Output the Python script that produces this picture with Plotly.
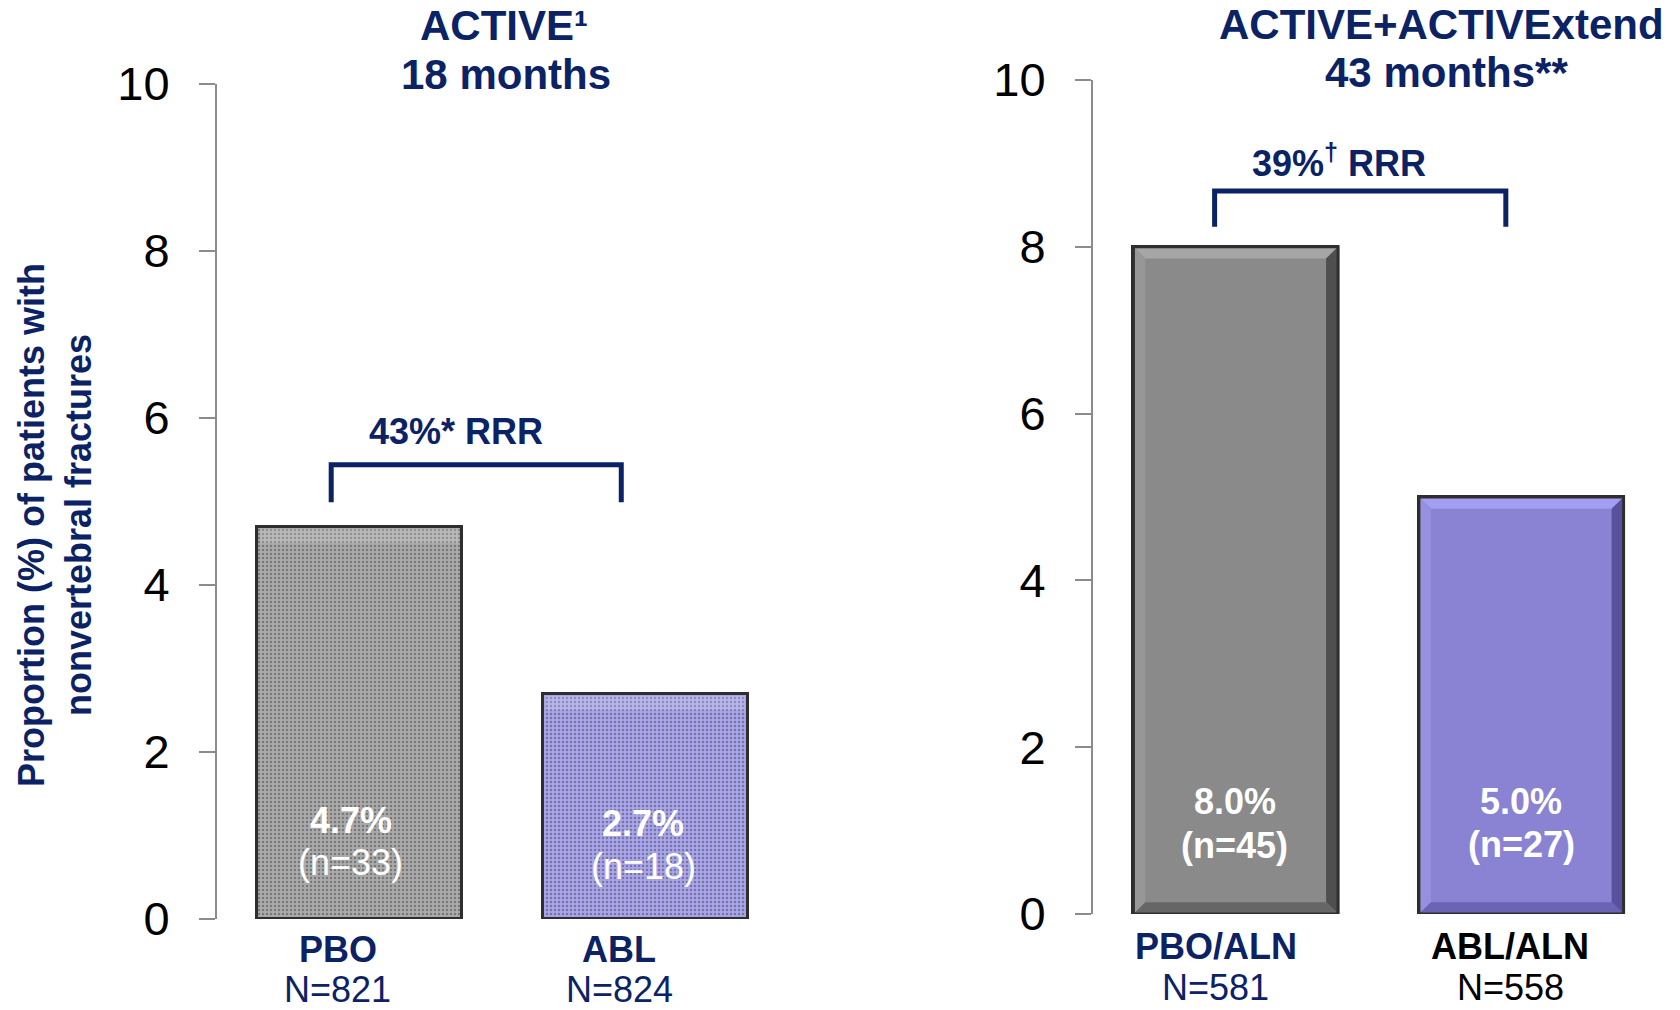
import plotly.graph_objects as go

# ---- data -------------------------------------------------------------
y_ticks = [0, 2, 4, 6, 8, 10]

left_title = ["ACTIVE\u00b9", "18 months"]
left_categories = ["PBO", "ABL"]
left_values = [4.7, 2.7]
left_counts = [33, 18]
left_totals = [821, 824]
left_rrr = "43%* RRR"

right_title = ["ACTIVE+ACTIVExtend", "43 months**"]
right_categories = ["PBO/ALN", "ABL/ALN"]
right_values = [8.0, 5.0]
right_counts = [45, 27]
right_totals = [581, 558]
right_rrr = "39%<sup>\u2020</sup> RRR"

y_title = "Proportion (%) of patients with<br>nonvertebral fractures"

# ---- styling ----------------------------------------------------------
W, H = 1680, 1010
NAVY = "#0b2265"
AXIS = "#8c8c8c"
GRAY = "#8a8a8a"
PURPLE = "#8a83d3"
EDGE = "#2e2e2e"
ARIAL = "Liberation Sans, Arial, sans-serif"
NARROW = "Liberation Sans Narrow, Arial Narrow, Liberation Sans, sans-serif"
BAR_W = 0.717
LEFT_FILLS = ["#ababab", "#a9a5ef"]


def px(x):
    return x / W


def py(y):
    return 1 - y / H


def label(text, x, y, size, color, xref="paper", yref="paper", **kw):
    return dict(text=text, x=x, y=y, xref=xref, yref=yref, showarrow=False,
                xanchor="center", yanchor="middle",
                font=dict(family=ARIAL, size=size, color=color), **kw)


fig = go.Figure()

# left panel bars (solid fill with a light dotted overlay)
fig.add_trace(go.Bar(
    x=list(range(len(left_values))), y=left_values, width=BAR_W,
    xaxis="x", yaxis="y",
    marker=dict(
        color=LEFT_FILLS,
        line=dict(color=EDGE, width=3),
        pattern=dict(shape=".", fillmode="overlay", fgcolor="#ffffff",
                     fgopacity=0.5, size=4, solidity=0.3),
    ),
    hoverinfo="skip", showlegend=False,
))

# right panel bars (bevelled)
fig.add_trace(go.Bar(
    x=list(range(len(right_values))), y=right_values, width=BAR_W,
    xaxis="x2", yaxis="y2",
    marker=dict(color=[GRAY, PURPLE], line=dict(color=EDGE, width=3)),
    hoverinfo="skip", showlegend=False,
))

axis_common = dict(
    range=[0, 10], tickvals=y_ticks, ticks="outside", ticklen=16,
    tickwidth=2, tickcolor=AXIS, showline=True, linecolor=AXIS,
    linewidth=2, showgrid=False, zeroline=False, automargin=False,
    tickfont=dict(family=NARROW, size=47, color="#000000"),
    ticklabelstandoff=20,
)
xaxis_common = dict(range=[-0.5, 1.5], showline=False, showgrid=False,
                    zeroline=False, showticklabels=False, ticks="",
                    automargin=False)

fig.update_layout(
    width=W, height=H, autosize=False,
    margin=dict(l=0, r=0, t=0, b=0, pad=0),
    paper_bgcolor="#ffffff", plot_bgcolor="#ffffff",
    bargap=0,
    xaxis=dict(domain=[px(217), px(788)], anchor="y", **xaxis_common),
    yaxis=dict(domain=[py(919), py(84)], anchor="x", **axis_common),
    xaxis2=dict(domain=[px(1093), px(1664)], anchor="y2", **xaxis_common),
    yaxis2=dict(domain=[py(914), py(80)], anchor="x2", **axis_common),
)

shapes = []
annotations = []

# light top band on the textured bars
for i, v in enumerate(left_values):
    h = BAR_W / 2
    shapes.append(dict(type="rect", xref="x", yref="y", x0=i - h + 0.01,
                       x1=i + h - 0.01, y0=v - 0.2, y1=v - 0.03,
                       fillcolor="rgba(255,255,255,0.18)", line=dict(width=0),
                       layer="above"))

# bevel edges on the right-panel bars
bevel_colors = [
    dict(top="#a6a6a6", left="#979797", right="#4f4f4f", bottom="#666666"),
    dict(top="#a39ef2", left="#9690e0", right="#57519e", bottom="#6a64b4"),
]
bx, by = 0.042, 0.14
for i, v in enumerate(right_values):
    h = BAR_W / 2
    L, R = i - h, i + h
    c = bevel_colors[i]
    polys = {
        "top": [(L, v), (R, v), (R - bx, v - by), (L + bx, v - by)],
        "left": [(L, v), (L + bx, v - by), (L + bx, by), (L, 0)],
        "right": [(R, v), (R, 0), (R - bx, by), (R - bx, v - by)],
        "bottom": [(L, 0), (L + bx, by), (R - bx, by), (R, 0)],
    }
    for key, pts in polys.items():
        path = "M " + " L ".join(f"{x},{y}" for x, y in pts) + " Z"
        shapes.append(dict(type="path", path=path, xref="x2", yref="y2",
                           fillcolor=c[key], line=dict(width=0),
                           layer="above"))
    shapes.append(dict(type="rect", xref="x2", yref="y2", x0=L, x1=R,
                       y0=0, y1=v, line=dict(color=EDGE, width=3),
                       fillcolor="rgba(0,0,0,0)", layer="above"))

# RRR brackets
brackets = [
    dict(xref="x", yref="y", x0=-0.10, x1=0.916, y0=4.99, y1=5.44),
    dict(xref="x2", yref="y2", x0=-0.074, x1=0.946, y0=8.24, y1=8.67),
]
for b in brackets:
    path = (f"M {b['x0']},{b['y0']} L {b['x0']},{b['y1']} "
            f"L {b['x1']},{b['y1']} L {b['x1']},{b['y0']}")
    shapes.append(dict(type="path", path=path, xref=b["xref"],
                       yref=b["yref"], line=dict(color=NAVY, width=5),
                       layer="above"))

annotations.append(label(f"<b>{left_rrr}</b>", px(456), py(432), 36, NAVY))
annotations.append(label(f"<b>{right_rrr}</b>", px(1339), py(161), 36, NAVY))

# panel titles
for text, x, y in [(left_title[0], 504, 25), (left_title[1], 506, 75),
                   (right_title[0], 1441, 24), (right_title[1], 1446, 73)]:
    annotations.append(label(f"<b>{text}</b>", px(x), py(y), 42, NAVY))

# y-axis title
annotations.append(label(f"<b>{y_title}</b>", px(55), py(525), 36, NAVY,
                         textangle=-90))

# value labels inside bars
left_label_pos = [(-9, 99, 57), (-2, 96, 53)]
for i, (v, n) in enumerate(zip(left_values, left_counts)):
    dx, s1, s2 = left_label_pos[i]
    annotations.append(label(f"<b>{v:.1f}%</b>", i, 0, 36, "#ffffff",
                             xref="x", yref="y", xshift=dx, yshift=s1))
    annotations.append(label(f"(n={n})", i, 0, 36, "#ffffff",
                             xref="x", yref="y", xshift=dx, yshift=s2))

right_label_pos = [(-1, 113, 69), (0, 113, 70)]
for i, (v, n) in enumerate(zip(right_values, right_counts)):
    dx, s1, s2 = right_label_pos[i]
    annotations.append(label(f"<b>{v:.1f}%</b>", i, 0, 36, "#ffffff",
                             xref="x2", yref="y2", xshift=dx, yshift=s1))
    annotations.append(label(f"<b>(n={n})</b>", i, 0, 36, "#ffffff",
                             xref="x2", yref="y2", xshift=dx, yshift=s2))

# category labels below the bars
left_cat_pos = [(-22, NAVY), (-26, NAVY)]
for i, (cat, tot) in enumerate(zip(left_categories, left_totals)):
    dx, col = left_cat_pos[i]
    annotations.append(label(f"<b>{cat}</b>", i, 0, 36, col, xref="x",
                             yref="y", xshift=dx, yshift=-30))
    annotations.append(label(f"N={tot}", i, 0, 36, col, xref="x",
                             yref="y", xshift=dx, yshift=-70))

right_cat_pos = [(-20, NAVY), (-11, "#000000")]
for i, (cat, tot) in enumerate(zip(right_categories, right_totals)):
    dx, col = right_cat_pos[i]
    annotations.append(label(f"<b>{cat}</b>", i, 0, 36, col, xref="x2",
                             yref="y2", xshift=dx, yshift=-32))
    annotations.append(label(f"N={tot}", i, 0, 36, col, xref="x2",
                             yref="y2", xshift=dx, yshift=-73))

fig.update_layout(shapes=shapes, annotations=annotations)
fig.write_html("out.html")
